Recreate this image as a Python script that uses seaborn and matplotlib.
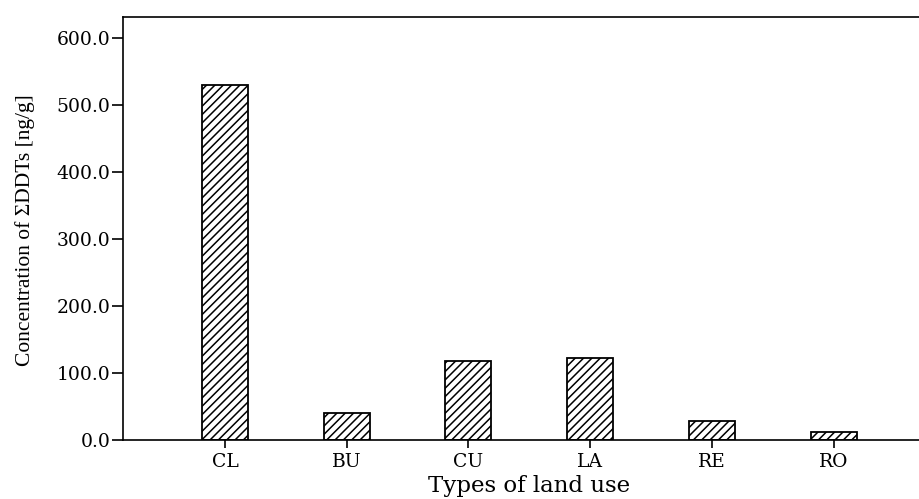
import matplotlib
matplotlib.use("Agg")
import matplotlib.pyplot as plt
import seaborn as sns
import pandas as pd
from matplotlib.ticker import FuncFormatter

# Land-use categories and mean ΣDDT concentrations (ng/g)
land_use = ["CL", "BU", "CU", "LA", "RE", "RO"]
ddt_conc = [530.3, 39.9, 117.9, 122.8, 27.9, 11.5]
y_ticks = [0, 100, 200, 300, 400, 500, 600]

df = pd.DataFrame({"land_use": land_use, "conc": ddt_conc})

sns.set_style("ticks")
plt.rcParams["font.family"] = ["DejaVu Serif"]
plt.rcParams["text.color"] = "black"
plt.rcParams["axes.labelcolor"] = "black"
plt.rcParams["hatch.linewidth"] = 1.1
plt.rcParams["hatch.color"] = "black"

fig = plt.figure(figsize=(9.2, 4.99), dpi=100)
ax = fig.add_axes([0.1334, 0.1182, 0.8666, 0.8483])

sns.barplot(data=df, x="land_use", y="conc", order=land_use, ax=ax,
            color="white", saturation=1, edgecolor="black", linewidth=1.3,
            width=0.378, hatch="////", errorbar=None)

ax.set_xlim(-0.84, 5.71)
ax.set_ylim(0, 631.8)
ax.set_yticks(y_ticks)
ax.yaxis.set_major_formatter(FuncFormatter(lambda v, _: f"{v:.1f}"))

for side in ["left", "bottom", "top"]:
    ax.spines[side].set_linewidth(1.2)
    ax.spines[side].set_color("black")
ax.spines["right"].set_visible(False)

ax.tick_params(axis="y", direction="out", length=8, width=1.2, pad=1,
               labelsize=13.5, colors="black")
ax.tick_params(axis="x", direction="out", length=6, width=1.2, pad=3,
               labelsize=13.5, colors="black")

ax.set_xlabel("Types of land use", fontsize=16.5, family="DejaVu Serif")
ax.xaxis.set_label_coords(0.51, -0.109)
ax.xaxis.label.set_va("center")

ax.set_ylabel("Concentration of ΣDDTs [ng/g]", fontsize=15.5,
              family=["Liberation Serif", "DejaVu Serif"])
ax.yaxis.set_label_coords(-0.122, 0.496)
ax.yaxis.label.set_va("center")

fig.savefig("out.png", dpi=100)
